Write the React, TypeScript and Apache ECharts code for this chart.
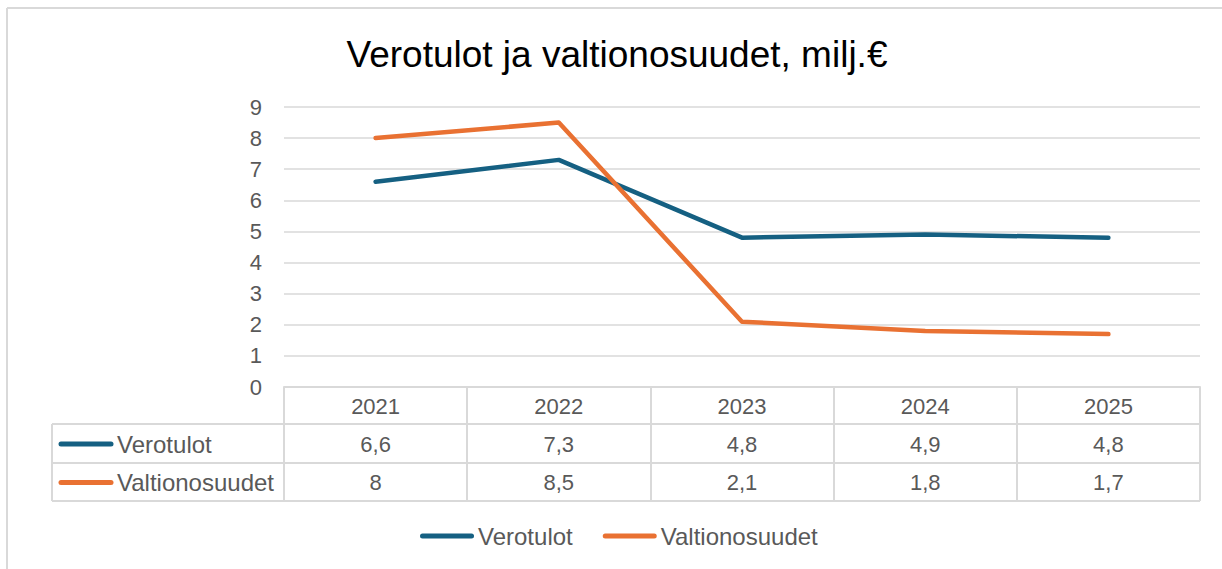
import React, { useEffect, useRef } from "react";
import * as echarts from "echarts";

const categories = ["2021", "2022", "2023", "2024", "2025"];
const verotulot = [6.6, 7.3, 4.8, 4.9, 4.8];
const valtionosuudet = [8, 8.5, 2.1, 1.8, 1.7];
const seriesNames = ["Verotulot", "Valtionosuudet"];
const seriesData = [verotulot, valtionosuudet];
const colors = ["#156082", "#E97132"];
const titleText = "Verotulot ja valtionosuudet, milj.€";
const yMax = 9;
const yInterval = 1;

const FONT = "'Liberation Sans', Arial, sans-serif";
const TEXT_COLOR = "#595959";
const LINE_COLOR = "#d9d9d9";

const GRID_LEFT = 284;
const GRID_RIGHT = 22;
const GRID_TOP = 107;
const GRID_BOTTOM_Y = 387;
const ROW_LINES = [424, 463, 501];
const TABLE_LEFT = 52;

const fmt = (v: number) => String(v).replace(".", ",");

export default function App() {
  const ref = useRef<HTMLDivElement>(null);

  useEffect(() => {
    if (!ref.current) return;
    const chart = echarts.init(ref.current, undefined, { renderer: "svg" });
    const W = 1222;
    const H = 569;
    const base: any = {
      animation: false,
      backgroundColor: "#ffffff",
      title: {
        text: titleText,
        left: 612,
        top: 31,
        textAlign: "center",
        textStyle: { fontFamily: FONT, fontSize: 37, fontWeight: "normal", color: "#000000" },
      },
      legend: {
        left: 415,
        top: 519,
        itemWidth: 54,
        itemHeight: 5,
        itemGap: 30,
        icon: "path://M2.5,0 H51.5 A2.5,2.5 0 0 1 51.5,5 H2.5 A2.5,2.5 0 0 1 2.5,0 Z",
        textStyle: { fontFamily: FONT, fontSize: 24, color: TEXT_COLOR, padding: [0, 0, 0, -1] },
        data: seriesNames,
      },
      grid: {
        left: GRID_LEFT,
        right: GRID_RIGHT,
        top: GRID_TOP,
        bottom: H - GRID_BOTTOM_Y,
        containLabel: false,
      },
      xAxis: {
        type: "category",
        data: categories,
        boundaryGap: true,
        axisLine: { show: true, lineStyle: { color: LINE_COLOR, width: 2 } },
        axisTick: {
          show: true,
          inside: false,
          length: ROW_LINES[2] - GRID_BOTTOM_Y,
          lineStyle: { color: LINE_COLOR, width: 2 },
        },
        axisLabel: {
          margin: 19,
          verticalAlign: "middle",
          fontFamily: FONT,
          fontSize: 22,
          color: TEXT_COLOR,
        },
      },
      yAxis: {
        type: "value",
        min: 0,
        max: yMax,
        interval: yInterval,
        axisLine: { show: false },
        axisTick: { show: false },
        splitLine: { show: true, lineStyle: { color: LINE_COLOR, width: 1.6 } },
        axisLabel: { margin: 22, fontFamily: FONT, fontSize: 22, color: TEXT_COLOR },
      },
      series: seriesNames.map((name, i) => ({
        name,
        type: "line",
        data: seriesData[i],
        symbol: "none",
        color: colors[i],
        lineStyle: { width: 4.5, color: colors[i], cap: "round", join: "round" },
      })),
    };
    chart.setOption(base);

    const right = W - GRID_RIGHT;
    const graphics: any[] = [];
    graphics.push({ type: "line", shape: { x1: 7, y1: 8, x2: 7, y2: H }, style: { stroke: LINE_COLOR, lineWidth: 2 } });
    graphics.push({ type: "line", shape: { x1: 7, y1: 8, x2: W, y2: 8 }, style: { stroke: LINE_COLOR, lineWidth: 2 } });
    ROW_LINES.forEach((y) => {
      graphics.push({ type: "line", shape: { x1: TABLE_LEFT, y1: y, x2: right, y2: y }, style: { stroke: LINE_COLOR, lineWidth: 2 } });
    });
    graphics.push({
      type: "line",
      shape: { x1: TABLE_LEFT, y1: ROW_LINES[0], x2: TABLE_LEFT, y2: ROW_LINES[2] },
      style: { stroke: LINE_COLOR, lineWidth: 2 },
    });
    seriesNames.forEach((name, r) => {
      const cy = (ROW_LINES[r] + ROW_LINES[r + 1]) / 2 + 0.5;
      graphics.push({
        type: "line",
        shape: { x1: 61, y1: cy, x2: 111, y2: cy },
        style: { stroke: colors[r], lineWidth: 5, lineCap: "round" },
      });
      graphics.push({
        type: "text",
        x: 117,
        y: cy,
        style: { text: name, font: `24px ${FONT}`, fill: TEXT_COLOR, textAlign: "left", textVerticalAlign: "middle" },
      });
      categories.forEach((c, k) => {
        const px = chart.convertToPixel({ xAxisIndex: 0 }, c) as number;
        graphics.push({
          type: "text",
          x: px,
          y: cy,
          style: {
            text: fmt(seriesData[r][k]),
            font: `22px ${FONT}`,
            fill: TEXT_COLOR,
            textAlign: "center",
            textVerticalAlign: "middle",
          },
        });
      });
    });
    chart.setOption({ graphic: graphics });

    return () => chart.dispose();
  }, []);

  return (
    <div
      ref={ref}
      style={{ position: "absolute", left: 0, top: 0, width: 1222, height: 569 }}
    />
  );
}
